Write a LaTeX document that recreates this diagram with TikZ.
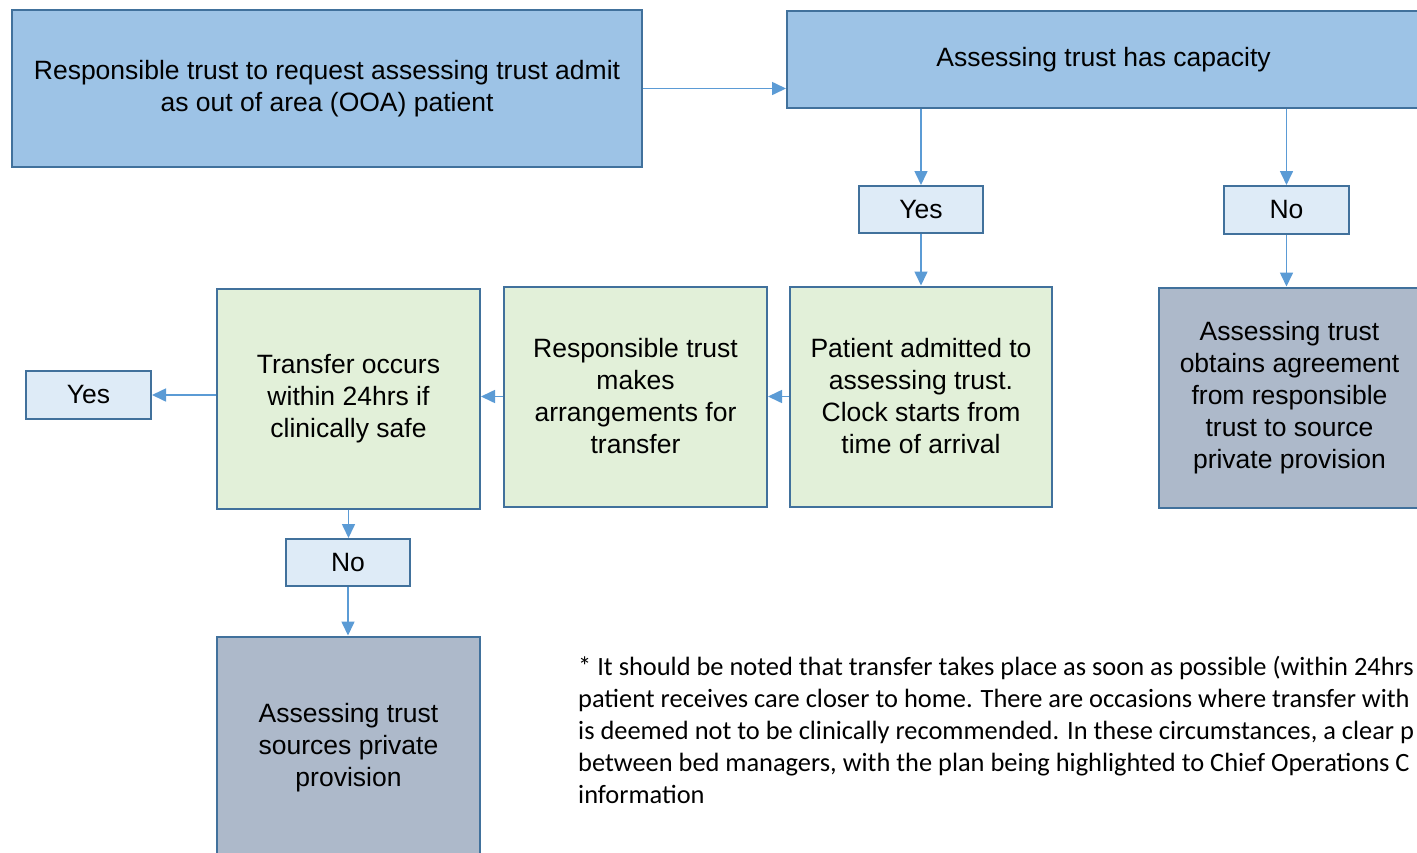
\documentclass[tikz,border=0pt]{standalone}
\usepackage{fontspec}
\setmainfont{Liberation Sans}
\newfontfamily\notefont{Carlito}
\usetikzlibrary{arrows.meta}
\definecolor{edge}{HTML}{41719C}
\definecolor{link}{HTML}{5B9BD5}
\definecolor{headfill}{HTML}{9DC3E6}
\definecolor{tagfill}{HTML}{DEEBF7}
\definecolor{stepfill}{HTML}{E2F0D9}
\definecolor{privfill}{HTML}{ADB9CA}
\tikzset{
  box/.style={draw=edge, line width=2pt, rectangle, align=center, inner sep=2pt,
    font=\fontsize{26.5}{32}\selectfont},
  headbox/.style={box, fill=headfill},
  tagbox/.style={box, fill=tagfill},
  stepbox/.style={box, fill=stepfill},
  privbox/.style={box, fill=privfill},
  flow/.style={draw=link, line width=1.6pt, -{Triangle[length=14pt,width=13pt]}},
  note/.style={anchor=base west, inner sep=0pt, font=\notefont\fontsize{26.4}{32}\selectfont}
}
\begin{document}
\begin{tikzpicture}[x=1pt, y=-1pt]
\useasboundingbox (0,0) rectangle (1417,852);
\clip (0,0) rectangle (1417,852);
\fill[white] (0,0) rectangle (1417,852);

% top row
\node[headbox, minimum width=630pt, minimum height=157pt] (req) at (327,88.5)
  {Responsible trust to request assessing trust admit\\as out of area (OOA) patient};
\node[headbox, minimum width=633pt, minimum height=97pt] (cap) at (1103.5,59.5)
  {Assessing trust has capacity};

% yes / no answers to capacity
\node[tagbox, minimum width=124pt, minimum height=47pt] (yes1) at (921,209.5) {Yes};
\node[tagbox, minimum width=125pt, minimum height=48pt] (no1) at (1286.5,210) {No};

% middle row
\node[stepbox, minimum width=262pt, minimum height=220pt] (admit) at (921,396.5)
  {Patient admitted to\\assessing trust.\\Clock starts from\\time of arrival};
\node[stepbox, minimum width=263pt, minimum height=220pt] (arrange) at (635.5,396.5)
  {Responsible trust\\makes\\arrangements for\\transfer};
\node[stepbox, minimum width=263pt, minimum height=220pt] (transfer) at (348.5,398.5)
  {Transfer occurs\\within 24hrs if\\clinically safe};
\node[privbox, minimum width=261pt, minimum height=220pt] (agree) at (1289.5,397.5)
  {Assessing trust\\obtains agreement\\from responsible\\trust to source\\private provision};

% outcomes of transfer
\node[tagbox, minimum width=125pt, minimum height=48pt] (yes2) at (88.5,395) {Yes};
\node[tagbox, minimum width=124pt, minimum height=47pt] (no2) at (348,562.5) {No};
\node[privbox, minimum width=263pt, minimum height=222pt] (source) at (348.5,747.5)
  {Assessing trust\\sources private\\provision};

% connectors
\draw[flow] (req.east) -- (req.east -| cap.west);
\draw[flow] (cap.south -| yes1.north) -- (yes1.north);
\draw[flow] (cap.south -| no1.north) -- (no1.north);
\draw[flow] (yes1.south) -- (yes1.south |- admit.north);
\draw[flow] (no1.south) -- (no1.south |- agree.north);
\draw[flow] (admit.west) -- (admit.west -| arrange.east);
\draw[flow] (arrange.west) -- (arrange.west -| transfer.east);
\draw[flow] (yes2.east -| transfer.west) -- (yes2.east);
\draw[flow] (transfer.south) -- (transfer.south |- no2.north);
\draw[flow] (no2.south) -- (no2.south |- source.north);

% footnote
\node[note] (n1) at (578,675) {* It should be noted that transfer takes place as soon as possible (within 24hrs};
\node[note] (n2) at (578,707) {patient receives care closer to home. There are occasions where transfer with};
\node[note] (n3) at (578,739) {is deemed not to be clinically recommended. In these circumstances, a clear p};
\node[note] (n4) at (578,771) {between bed managers, with the plan being highlighted to Chief Operations C};
\node[note] (n5) at (578,803) {information};
\end{tikzpicture}
\end{document}
